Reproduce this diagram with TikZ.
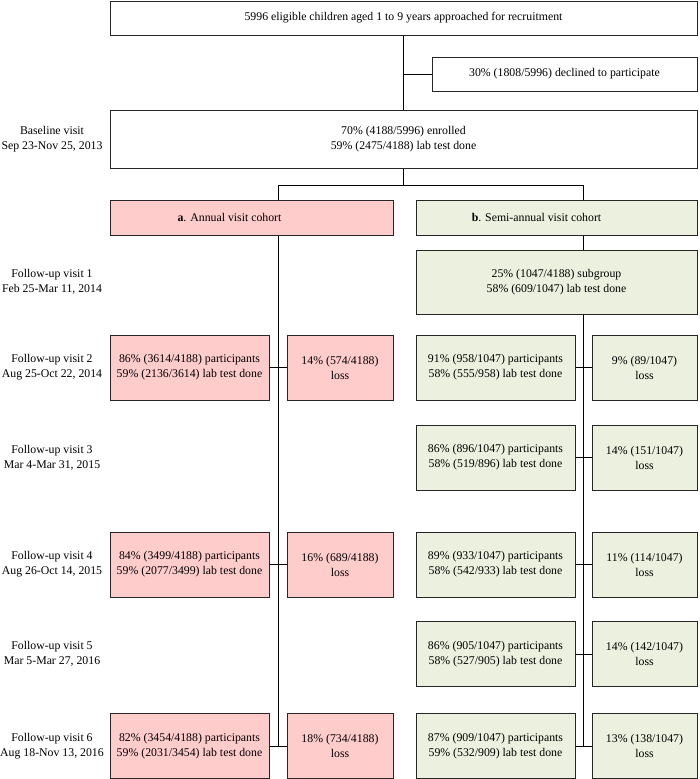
\documentclass[tikz,border=0pt]{standalone}
\usepackage{fontspec}
\setmainfont{Liberation Serif}
\definecolor{pinkfill}{RGB}{255,204,204}
\definecolor{greenfill}{RGB}{235,241,222}
\newcommand\myfs{\fontsize{11.8}{15}\selectfont}
\begin{document}
\begin{tikzpicture}[x=1pt,y=-1pt,
  box/.style={draw=black!85, line width=1pt, inner sep=0pt, align=center, font=\myfs},
  wbox/.style={box, fill=white},
  pbox/.style={box, fill=pinkfill},
  gbox/.style={box, fill=greenfill},
  lbl/.style={align=center, font=\myfs, inner sep=0pt},
  conn/.style={draw=black, line width=1pt},
  rowbox/.style={minimum height=65pt},
  partA/.style={pbox, rowbox, minimum width=159pt},
  lossA/.style={pbox, rowbox, minimum width=106pt},
  partB/.style={gbox, rowbox, minimum width=159pt},
  lossB/.style={gbox, rowbox, minimum width=105pt}]
\useasboundingbox (0,0) rectangle (700,779);

% top part
\node[wbox, minimum width=587pt, minimum height=34pt] (top) at (403.5,18) {5996 eligible children aged 1 to 9 years approached for recruitment};
\node[wbox, minimum width=265pt, minimum height=34pt] (decl) at (564.5,74) {30\% (1808/5996) declined to participate};
\node[wbox, minimum width=587pt, minimum height=58pt] (base) at (403.5,139) {70\% (4188/5996) enrolled\\59\% (2475/4188) lab test done};
\node[pbox, minimum width=283pt, minimum height=35pt] (ha) at (251.5,217.5) {\textbf{a}. Annual visit cohort\hspace*{44pt}};
\node[gbox, minimum width=281pt, minimum height=35pt] (hb) at (556.5,217.5) {\textbf{b}. Semi-annual visit cohort\hspace*{40pt}};
\node[gbox, minimum width=281pt, minimum height=64pt] (sub) at (556.5,282) {25\% (1047/4188) subgroup\\58\% (609/1047) lab test done};

% left labels
\node[lbl] (l0) at (52,139) {Baseline visit\\Sep 23-Nov 25, 2013};
\node[lbl] (l1) at (52,282) {Follow-up visit 1\\Feb 25-Mar 11, 2014};
\node[lbl] (l2) at (52,367.5) {Follow-up visit 2\\Aug 25-Oct 22, 2014};
\node[lbl] (l3) at (52,457.5) {Follow-up visit 3\\Mar 4-Mar 31, 2015};
\node[lbl] (l4) at (52,564.5) {Follow-up visit 4\\Aug 26-Oct 14, 2015};
\node[lbl] (l5) at (52,654) {Follow-up visit 5\\Mar 5-Mar 27, 2016};
\node[lbl] (l6) at (52,746) {Follow-up visit 6\\Aug 18-Nov 13, 2016};

% annual cohort rows
\node[partA] (pa2) at (189.5,367.5) {86\% (3614/4188) participants\\59\% (2136/3614) lab test done};
\node[lossA] (la2) at (340,367.5) {14\% (574/4188)\\loss};
\node[partA] (pa4) at (189.5,564.5) {84\% (3499/4188) participants\\59\% (2077/3499) lab test done};
\node[lossA] (la4) at (340,564.5) {16\% (689/4188)\\loss};
\node[partA] (pa6) at (189.5,746) {82\% (3454/4188) participants\\59\% (2031/3454) lab test done};
\node[lossA] (la6) at (340,746) {18\% (734/4188)\\loss};

% semi-annual cohort rows
\node[partB] (pb2) at (495.5,367.5) {91\% (958/1047) participants\\58\% (555/958) lab test done};
\node[lossB] (lb2) at (644.5,367.5) {9\% (89/1047)\\loss};
\node[partB] (pb3) at (495.5,457.5) {86\% (896/1047) participants\\58\% (519/896) lab test done};
\node[lossB] (lb3) at (644.5,457.5) {14\% (151/1047)\\loss};
\node[partB] (pb4) at (495.5,564.5) {89\% (933/1047) participants\\58\% (542/933) lab test done};
\node[lossB] (lb4) at (644.5,564.5) {11\% (114/1047)\\loss};
\node[partB] (pb5) at (495.5,654) {86\% (905/1047) participants\\58\% (527/905) lab test done};
\node[lossB] (lb5) at (644.5,654) {14\% (142/1047)\\loss};
\node[partB] (pb6) at (495.5,746) {87\% (909/1047) participants\\59\% (532/909) lab test done};
\node[lossB] (lb6) at (644.5,746) {13\% (138/1047)\\loss};

% connectors
\coordinate (dj) at (top.south |- decl.west);
\coordinate (split) at (403.5,185);
\coordinate (sa) at (278,185);
\coordinate (sb) at (583,185);
\draw[conn] (top.south) -- (base.north);
\draw[conn] (dj) -- (decl.west);
\draw[conn] (base.south) -- (split);
\draw[conn] (sa) -- (sb);
\draw[conn] (sa) -- (sa |- ha.north);
\draw[conn] (sb) -- (sb |- hb.north);
\draw[conn] (sa |- ha.south) -- (sa |- pa6.east);
\draw[conn] (sb |- hb.south) -- (sb |- sub.north);
\draw[conn] (sb |- sub.south) -- (sb |- pb6.east);
\foreach \r in {2,4,6} {\draw[conn] (pa\r.east) -- (la\r.west);}
\foreach \r in {2,3,4,5,6} {\draw[conn] (pb\r.east) -- (lb\r.west);}
\end{tikzpicture}
\end{document}
